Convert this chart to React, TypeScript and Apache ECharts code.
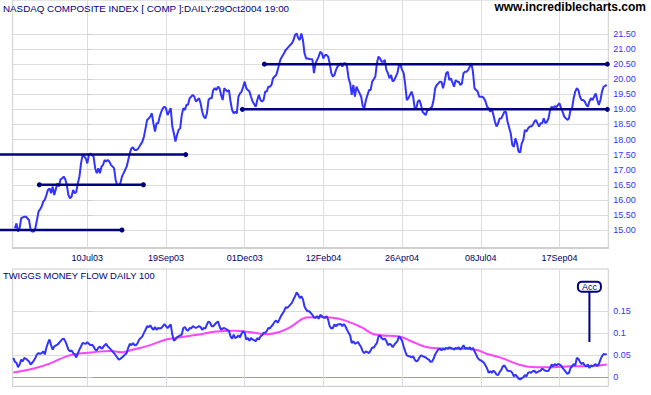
import React, { useEffect, useRef } from 'react';
import * as echarts from 'echarts';

// ---------- data (x = trading-day index, 0 = 10 Jul 2003) ----------
const dateTickIdx = [0, 50, 100, 150, 200, 250, 300];
const dateTickLabels = ['10Jul03', '19Sep03', '01Dec03', '12Feb04', '26Apr04', '08Jul04', '17Sep04'];
const priceTicks = [15, 15.5, 16, 16.5, 17, 17.5, 18, 18.5, 19, 19.5, 20, 20.5, 21, 21.5];
const mfTicks = [0, 0.05, 0.1, 0.15];

const price: [number, number][] = [
  [-46, 15.06], [-45, 15.22], [-44, 14.95], [-43, 15.06], [-42, 15.39], [-41, 15.42], [-40, 15.44], [-39, 15.44],
  [-37, 15.33], [-36, 15.0], [-35, 14.95], [-34, 14.95], [-33, 15.06], [-32, 15.33], [-31, 15.61], [-30, 15.69],
  [-29, 15.78], [-28, 15.94], [-27, 16.0], [-26, 16.16], [-25, 16.33], [-24, 16.38], [-23, 16.22], [-22, 16.44],
  [-21, 16.16], [-19, 16.55], [-18, 16.44], [-17, 16.68], [-16, 16.71], [-15, 16.77], [-14, 16.68], [-13, 16.49],
  [-12, 16.16], [-11, 16.05], [-10, 16.11], [-9, 16.33], [-8, 16.22], [-7, 16.27], [-6, 16.55], [-5, 16.77],
  [-4, 17.21], [-3, 17.49], [-1, 17.38], [0, 17.21], [1, 17.49], [2, 17.54], [3, 17.49], [4, 17.43],
  [5, 17.05], [6, 16.88], [7, 17.05], [8, 16.88], [9, 17.1], [10, 17.16], [11, 17.32], [12, 17.27],
  [13, 17.32], [14, 17.27], [15, 17.16], [17, 17.05], [18, 16.66], [19, 16.49], [20, 16.49], [21, 16.55],
  [22, 16.77], [23, 16.88], [24, 16.99], [25, 17.1], [26, 17.32], [27, 17.54], [28, 17.71], [29, 17.74],
  [30, 17.65], [31, 17.65], [32, 17.68], [33, 17.76], [35, 17.93], [36, 18.1], [37, 18.37], [38, 18.65],
  [39, 18.7], [40, 18.76], [41, 18.87], [42, 18.54], [43, 18.26], [44, 18.54], [45, 18.54], [46, 18.76],
  [47, 18.92], [48, 19.04], [49, 19.09], [50, 19.04], [51, 18.81], [53, 19.04], [54, 18.43], [55, 18.21],
  [56, 17.93], [57, 18.15], [58, 18.32], [59, 18.37], [60, 18.81], [61, 19.04], [62, 18.98], [63, 19.15],
  [64, 19.15], [65, 19.37], [66, 19.42], [67, 19.48], [68, 19.42], [69, 19.26], [71, 19.37], [72, 19.2],
  [73, 18.92], [74, 18.76], [75, 18.7], [76, 18.87], [77, 19.31], [78, 19.37], [79, 19.37], [80, 19.64],
  [81, 19.7], [82, 19.64], [83, 19.75], [84, 19.7], [85, 19.48], [86, 19.31], [87, 19.7], [89, 19.59],
  [90, 19.64], [91, 19.26], [92, 18.98], [93, 18.87], [94, 18.92], [95, 18.87], [96, 19.42], [97, 19.53],
  [98, 19.59], [99, 19.75], [100, 19.92], [101, 19.7], [102, 19.64], [103, 19.59], [104, 19.42], [105, 19.26],
  [107, 19.09], [108, 19.31], [109, 19.48], [110, 19.31], [111, 19.26], [112, 19.31], [113, 19.59], [114, 19.59],
  [115, 19.75], [116, 19.75], [117, 19.81], [118, 20.03], [119, 20.09], [120, 20.14], [121, 20.31], [122, 20.53],
  [123, 20.69], [125, 20.86], [126, 20.97], [127, 21.02], [128, 21.08], [129, 21.14], [130, 21.19], [131, 21.3],
  [132, 21.47], [133, 21.52], [134, 21.36], [135, 21.3], [136, 21.52], [137, 21.3], [138, 20.86], [139, 20.69],
  [140, 20.69], [141, 20.67], [143, 20.66], [144, 20.2], [145, 20.53], [146, 20.64], [147, 20.75], [148, 20.91],
  [149, 20.86], [150, 20.69], [151, 20.8], [152, 20.8], [153, 20.75], [154, 20.53], [155, 20.2], [156, 20.09],
  [157, 20.14], [158, 20.31], [159, 20.42], [161, 20.53], [162, 20.42], [163, 20.53], [164, 20.53], [165, 20.42],
  [166, 20.03], [167, 19.86], [168, 19.48], [169, 19.81], [170, 19.42], [171, 19.75], [172, 19.64], [173, 19.53],
  [174, 19.42], [175, 19.11], [176, 19.04], [177, 19.31], [179, 19.64], [180, 19.64], [181, 19.92], [182, 20.0],
  [183, 20.09], [184, 20.53], [185, 20.75], [186, 20.69], [187, 20.58], [188, 20.58], [189, 20.64], [190, 20.31],
  [191, 20.2], [192, 20.03], [193, 20.14], [194, 19.92], [195, 19.97], [197, 20.2], [198, 20.47], [199, 20.47],
  [200, 20.31], [201, 20.2], [202, 19.81], [203, 19.31], [204, 19.37], [205, 19.48], [206, 19.59], [207, 19.42],
  [208, 19.04], [209, 19.04], [210, 19.26], [211, 19.31], [212, 19.15], [213, 18.92], [215, 18.81], [216, 18.98],
  [217, 18.98], [218, 19.04], [219, 19.09], [220, 19.31], [221, 19.7], [222, 19.81], [223, 19.86], [224, 19.92],
  [225, 19.92], [226, 19.7], [227, 19.92], [228, 20.2], [229, 20.25], [230, 19.97], [231, 20.03], [233, 19.75],
  [234, 19.97], [235, 19.92], [236, 19.92], [237, 19.81], [238, 19.86], [239, 20.2], [240, 20.25], [241, 20.25],
  [242, 20.31], [243, 20.42], [244, 20.53], [245, 20.25], [246, 19.7], [247, 19.64], [248, 19.59], [249, 19.42],
  [251, 19.42], [252, 19.37], [253, 19.26], [254, 19.09], [255, 19.04], [256, 18.92], [257, 19.04], [258, 18.81],
  [259, 18.59], [260, 18.43], [261, 18.54], [262, 18.7], [263, 18.7], [264, 18.81], [265, 18.92], [266, 18.92],
  [267, 18.59], [269, 18.21], [270, 17.82], [271, 17.76], [272, 18.04], [273, 17.87], [274, 17.6], [275, 17.57],
  [276, 17.87], [277, 17.99], [278, 18.32], [279, 18.26], [280, 18.37], [281, 18.43], [282, 18.43], [283, 18.48],
  [284, 18.59], [285, 18.65], [287, 18.43], [288, 18.54], [289, 18.54], [290, 18.7], [291, 18.54], [292, 18.59],
  [293, 18.7], [294, 18.98], [295, 19.09], [296, 19.04], [297, 19.11], [298, 19.07], [299, 19.15], [300, 19.2],
  [301, 19.04], [302, 18.92], [303, 18.76], [305, 18.65], [306, 18.7], [307, 18.98], [308, 19.04], [309, 19.37],
  [310, 19.59], [311, 19.7], [312, 19.64], [313, 19.42], [314, 19.31], [315, 19.31], [316, 19.26], [317, 19.15],
  [318, 19.09], [319, 19.26], [320, 19.37], [321, 19.31], [323, 19.53], [324, 19.31], [325, 19.15], [326, 19.31],
  [327, 19.59], [328, 19.75], [329, 19.78], [330, 19.81],
];

const moneyFlow: [number, number][] = [
  [-47, 0.044], [-46, 0.035], [-45, 0.033], [-44, 0.023], [-43, 0.029], [-42, 0.04], [-41, 0.036], [-40, 0.044],
  [-39, 0.042], [-37, 0.036], [-36, 0.029], [-35, 0.033], [-34, 0.038], [-33, 0.044], [-32, 0.052], [-31, 0.055],
  [-30, 0.053], [-29, 0.055], [-28, 0.059], [-27, 0.052], [-26, 0.067], [-25, 0.078], [-24, 0.086], [-23, 0.073],
  [-22, 0.063], [-21, 0.07], [-19, 0.074], [-18, 0.078], [-17, 0.082], [-16, 0.086], [-15, 0.088], [-14, 0.082],
  [-13, 0.073], [-12, 0.063], [-11, 0.059], [-10, 0.061], [-9, 0.055], [-8, 0.052], [-7, 0.045], [-6, 0.055],
  [-5, 0.063], [-4, 0.07], [-3, 0.078], [-1, 0.076], [0, 0.08], [1, 0.076], [2, 0.073], [3, 0.074],
  [4, 0.07], [5, 0.063], [6, 0.061], [7, 0.067], [8, 0.07], [9, 0.065], [10, 0.068], [11, 0.073],
  [12, 0.076], [13, 0.07], [14, 0.067], [15, 0.063], [17, 0.055], [18, 0.05], [19, 0.045], [20, 0.04],
  [21, 0.042], [22, 0.045], [23, 0.048], [24, 0.052], [25, 0.055], [26, 0.067], [27, 0.076], [28, 0.073],
  [29, 0.078], [30, 0.073], [31, 0.073], [32, 0.078], [33, 0.086], [35, 0.093], [36, 0.101], [37, 0.108],
  [38, 0.116], [39, 0.114], [40, 0.118], [41, 0.112], [42, 0.108], [43, 0.114], [44, 0.108], [45, 0.112],
  [46, 0.111], [47, 0.112], [48, 0.116], [49, 0.121], [50, 0.116], [51, 0.112], [53, 0.12], [54, 0.097],
  [55, 0.083], [56, 0.086], [57, 0.091], [58, 0.093], [59, 0.095], [60, 0.097], [61, 0.112], [62, 0.114],
  [63, 0.108], [64, 0.106], [65, 0.112], [66, 0.111], [67, 0.116], [68, 0.114], [69, 0.112], [71, 0.116],
  [72, 0.114], [73, 0.108], [74, 0.112], [75, 0.111], [76, 0.12], [77, 0.127], [78, 0.124], [79, 0.116],
  [80, 0.116], [81, 0.12], [82, 0.124], [83, 0.127], [84, 0.116], [85, 0.108], [86, 0.111], [87, 0.112],
  [89, 0.108], [90, 0.105], [91, 0.093], [92, 0.088], [93, 0.097], [94, 0.089], [95, 0.091], [96, 0.095],
  [97, 0.091], [98, 0.099], [99, 0.105], [100, 0.101], [101, 0.086], [102, 0.089], [103, 0.083], [104, 0.089],
  [105, 0.086], [107, 0.082], [108, 0.089], [109, 0.086], [110, 0.093], [111, 0.095], [112, 0.101], [113, 0.101],
  [114, 0.105], [115, 0.112], [116, 0.111], [117, 0.116], [118, 0.12], [119, 0.126], [120, 0.129], [121, 0.124],
  [122, 0.131], [123, 0.139], [125, 0.15], [126, 0.159], [127, 0.158], [128, 0.161], [129, 0.165], [130, 0.169],
  [131, 0.177], [132, 0.184], [133, 0.193], [134, 0.188], [135, 0.18], [136, 0.184], [137, 0.177], [138, 0.161],
  [139, 0.154], [140, 0.15], [141, 0.15], [143, 0.142], [144, 0.136], [145, 0.135], [146, 0.139], [147, 0.133],
  [148, 0.142], [149, 0.139], [150, 0.136], [151, 0.135], [152, 0.139], [153, 0.131], [154, 0.116], [155, 0.111],
  [156, 0.112], [157, 0.12], [158, 0.116], [159, 0.12], [161, 0.121], [162, 0.116], [163, 0.121], [164, 0.116],
  [165, 0.108], [166, 0.101], [167, 0.095], [168, 0.078], [169, 0.082], [170, 0.076], [171, 0.078], [172, 0.08],
  [173, 0.074], [174, 0.068], [175, 0.059], [176, 0.055], [177, 0.059], [179, 0.055], [180, 0.061], [181, 0.068],
  [182, 0.067], [183, 0.073], [184, 0.078], [185, 0.093], [186, 0.095], [187, 0.089], [188, 0.086], [189, 0.088],
  [190, 0.082], [191, 0.073], [192, 0.076], [193, 0.074], [194, 0.068], [195, 0.074], [197, 0.082], [198, 0.093],
  [199, 0.089], [200, 0.083], [201, 0.07], [202, 0.059], [203, 0.05], [204, 0.048], [205, 0.048], [206, 0.045],
  [207, 0.048], [208, 0.04], [209, 0.036], [210, 0.038], [211, 0.045], [212, 0.05], [213, 0.048], [215, 0.045],
  [216, 0.042], [217, 0.04], [218, 0.035], [219, 0.036], [220, 0.042], [221, 0.052], [222, 0.058], [223, 0.063],
  [224, 0.065], [225, 0.061], [226, 0.065], [227, 0.063], [228, 0.067], [229, 0.065], [230, 0.068], [231, 0.067],
  [233, 0.063], [234, 0.067], [235, 0.065], [236, 0.068], [237, 0.063], [238, 0.067], [239, 0.073], [240, 0.065],
  [241, 0.067], [242, 0.065], [243, 0.068], [244, 0.063], [245, 0.067], [246, 0.059], [247, 0.052], [248, 0.044],
  [249, 0.04], [251, 0.036], [252, 0.033], [253, 0.027], [254, 0.02], [255, 0.01], [256, 0.014], [257, 0.01],
  [258, 0.015], [259, 0.012], [260, 0.006], [261, 0.005], [262, 0.012], [263, 0.017], [264, 0.025], [265, 0.027],
  [266, 0.021], [267, 0.015], [269, 0.014], [270, 0.01], [271, 0.002], [272, 0.006], [273, 0.002], [274, -0.003],
  [275, -0.005], [276, -0.002], [277, 0.0], [278, 0.005], [279, 0.002], [280, 0.01], [281, 0.012], [282, 0.01],
  [283, 0.014], [284, 0.015], [285, 0.01], [287, 0.014], [288, 0.015], [289, 0.02], [290, 0.017], [291, 0.015],
  [292, 0.014], [293, 0.015], [294, 0.021], [295, 0.029], [296, 0.025], [297, 0.03], [298, 0.027], [299, 0.03],
  [300, 0.029], [301, 0.027], [302, 0.021], [303, 0.017], [305, 0.008], [306, 0.01], [307, 0.021], [308, 0.025],
  [309, 0.03], [310, 0.027], [311, 0.044], [312, 0.042], [313, 0.035], [314, 0.03], [315, 0.033], [316, 0.027],
  [317, 0.025], [318, 0.029], [319, 0.021], [320, 0.027], [321, 0.025], [323, 0.03], [324, 0.025], [325, 0.03],
  [326, 0.04], [327, 0.048], [328, 0.053], [329, 0.052], [330, 0.053],
];

const signal: [number, number][] = [
  [-47, 0.011], [-34, 0.02], [-24, 0.031], [-13, 0.048], [-7, 0.053], [4, 0.057], [14, 0.06], [22, 0.057],
  [29, 0.063], [40, 0.073], [50, 0.086], [59, 0.091], [72, 0.098], [82, 0.104], [93, 0.106], [106, 0.101],
  [114, 0.098], [122, 0.103], [129, 0.114], [135, 0.129], [139, 0.136], [148, 0.137], [154, 0.136], [163, 0.13],
  [174, 0.114], [182, 0.098], [199, 0.092], [205, 0.083], [218, 0.067], [233, 0.065], [246, 0.063], [254, 0.053],
  [263, 0.044], [275, 0.028], [285, 0.023], [296, 0.023], [307, 0.025], [317, 0.025], [330, 0.029],
];

const trendLevel = [15.0, 16.5, 17.5, 19.0, 20.5];
const trendStart = [-55.5, -30.5, -55.5, 98.5, 112.5];
const trendEnd = [22, 35.6, 62.5, 330.4, 330.4];
const trendStartDot = [false, true, false, true, true];

const accIdx = 319;
const accFrom = 0.08;
const accTo = 0.1945;
const accBox = 0.206;

// ---------- axis extents ----------
const X_MIN = -47.4;
const X_MAX = 331;
const X_MIN_WIDE = -55.5; // left edge of the page, used by the trend-line overlay
const P_MIN = 14.403;
const P_MAX = 22.627;
const MF_MIN = -0.0205;
const MF_MAX = 0.2461;

const FONT = "'Liberation Sans', Arial, sans-serif";
const NAVY = '#000080';
const BLUE = '#3333ff';
const GRIDC = '#dcdcdc';

export default function App() {
  const ref = useRef<HTMLDivElement>(null);
  useEffect(() => {
    if (!ref.current) return;
    const chart = echarts.init(ref.current, undefined, { renderer: 'svg' });
    const dateLabel = (v: number) => {
      const i = dateTickIdx.indexOf(Math.round(v));
      return i >= 0 ? dateTickLabels[i] : '';
    };
    const trendSeries = trendLevel.map((lv, i) => ({
      type: 'line',
      xAxisIndex: 2,
      yAxisIndex: 2,
      clip: false,
      z: 4,
      symbol: 'circle',
      symbolSize: 5,
      showSymbol: true,
      silent: true,
      lineStyle: { color: NAVY, width: 2.5 },
      itemStyle: { color: NAVY, borderWidth: 0, opacity: 1 },
      data: [
        { value: [trendStart[i], lv], symbol: trendStartDot[i] ? 'circle' : 'none' },
        { value: [trendEnd[i], lv], symbol: 'circle' },
      ],
    }));
    const option: any = {
      animation: false,
      backgroundColor: '#ffffff',
      title: [
        {
          text: 'NASDAQ COMPOSITE INDEX [ COMP ]:DAILY:29Oct2004 19:00',
          left: 3, top: 3, padding: 0,
          textStyle: { fontSize: 9.8, fontWeight: 'normal', color: NAVY, fontFamily: FONT },
        },
        {
          text: 'www.incrediblecharts.com',
          right: 5, top: 1, padding: 0,
          textStyle: { fontSize: 12, fontWeight: 'bold', color: '#000000', fontFamily: FONT },
        },
        {
          text: 'TWIGGS MONEY FLOW DAILY 100',
          left: 3, top: 271, padding: 0,
          textStyle: { fontSize: 9.4, fontWeight: 'normal', color: NAVY, fontFamily: FONT },
        },
      ],
      grid: [
        { left: 12.7, right: 42.7, top: 0, height: 248, show: true, borderColor: '#cccccc', borderWidth: 1, backgroundColor: 'transparent' },
        { left: 12.7, right: 42.7, top: 269, height: 117.3, show: true, borderColor: '#cccccc', borderWidth: 1, backgroundColor: 'transparent' },
        { left: 0, right: 42.7, top: 0, height: 248, show: false },
      ],
      xAxis: [
        {
          type: 'value', gridIndex: 0, min: X_MIN, max: X_MAX,
          splitLine: { show: false },
          axisLine: { show: true, onZero: false, lineStyle: { color: '#d0d0d0', width: 2 } },
          axisTick: { show: false },
          axisLabel: {
            customValues: dateTickIdx, formatter: dateLabel,
            color: '#000066', fontSize: 9, fontFamily: FONT, margin: 5,
          },
        },
        {
          type: 'value', gridIndex: 1, min: X_MIN, max: X_MAX,
          splitLine: { show: false },
          axisLine: { show: true, onZero: false, lineStyle: { color: '#d0d0d0', width: 1 } },
          axisTick: { show: false },
          axisLabel: { show: false },
        },
        {
          type: 'value', gridIndex: 2, min: X_MIN_WIDE, max: X_MAX, show: false,
        },
      ],
      yAxis: [
        {
          type: 'value', gridIndex: 0, position: 'right', min: P_MIN, max: P_MAX,
          splitLine: { show: false },
          axisLine: { show: false },
          axisTick: { show: true, customValues: priceTicks, length: 4, lineStyle: { color: '#cccccc' } },
          axisLabel: {
            customValues: priceTicks, formatter: (v: number) => v.toFixed(2),
            color: BLUE, fontSize: 9, fontFamily: FONT, margin: 5,
          },
        },
        {
          type: 'value', gridIndex: 1, position: 'right', min: MF_MIN, max: MF_MAX,
          splitLine: { show: false },
          axisLine: { show: false },
          axisTick: { show: true, customValues: mfTicks, length: 4, lineStyle: { color: '#cccccc' } },
          axisLabel: {
            customValues: mfTicks, formatter: (v: number) => (v === 0 ? '0' : String(+v.toFixed(2))),
            color: BLUE, fontSize: 9, fontFamily: FONT, margin: 5,
          },
        },
        {
          type: 'value', gridIndex: 2, min: P_MIN, max: P_MAX, show: false,
        },
      ],
      series: [
        {
          type: 'line', xAxisIndex: 0, yAxisIndex: 0, data: [], z: 0, silent: true,
          markLine: {
            z: 0, silent: true, symbol: ['none', 'none'], label: { show: false },
            lineStyle: { color: GRIDC, width: 1, type: 'solid' },
            data: [
              ...priceTicks.map((v) => ({ yAxis: v })),
              ...dateTickIdx.map((v) => ({ xAxis: v })),
            ],
          },
        },
        {
          type: 'line', xAxisIndex: 1, yAxisIndex: 1, data: [], z: 0, silent: true,
          markLine: {
            z: 0, silent: true, symbol: ['none', 'none'], label: { show: false },
            lineStyle: { color: GRIDC, width: 1, type: 'solid' },
            data: [
              ...mfTicks.map((v) => ({ yAxis: v, lineStyle: { color: v === 0 ? '#9999cc' : GRIDC, width: 1, type: 'solid' } })),
              ...dateTickIdx.map((v) => ({ xAxis: v })),
            ],
          },
        },
        {
          type: 'line', xAxisIndex: 0, yAxisIndex: 0, data: price, z: 3,
          showSymbol: false, silent: true,
          lineStyle: { color: BLUE, width: 2 },
        },
        ...trendSeries,
        {
          type: 'line', xAxisIndex: 1, yAxisIndex: 1, data: signal, z: 2,
          showSymbol: false, silent: true, smooth: 0.4,
          lineStyle: { color: '#ff44ff', width: 2 },
        },
        {
          type: 'line', xAxisIndex: 1, yAxisIndex: 1, data: moneyFlow, z: 3,
          showSymbol: false, silent: true,
          lineStyle: { color: BLUE, width: 2 },
        },
        {
          type: 'line', xAxisIndex: 1, yAxisIndex: 1, data: [[accIdx, accFrom], [accIdx, accTo]], z: 4,
          showSymbol: false, silent: true,
          lineStyle: { color: NAVY, width: 2 },
        },
        {
          type: 'scatter', xAxisIndex: 1, yAxisIndex: 1, data: [[accIdx, accBox]], z: 6,
          symbol: 'circle', symbolSize: 1, silent: true,
          itemStyle: { color: 'rgba(0,0,0,0)', opacity: 1 },
          label: {
            show: true, position: 'inside', formatter: 'Acc', fontSize: 9, color: NAVY, fontFamily: FONT,
            backgroundColor: '#ffffff', borderColor: NAVY, borderWidth: 2, borderRadius: 3,
            padding: [0, 3, 0, 3], lineHeight: 8,
          },
        },
      ],
    };
    chart.setOption(option);
    return () => chart.dispose();
  }, []);
  return (
    <div
      ref={ref}
      style={{ position: 'fixed', left: 0, top: 0, width: 651, height: 395, background: '#ffffff' }}
    />
  );
}
